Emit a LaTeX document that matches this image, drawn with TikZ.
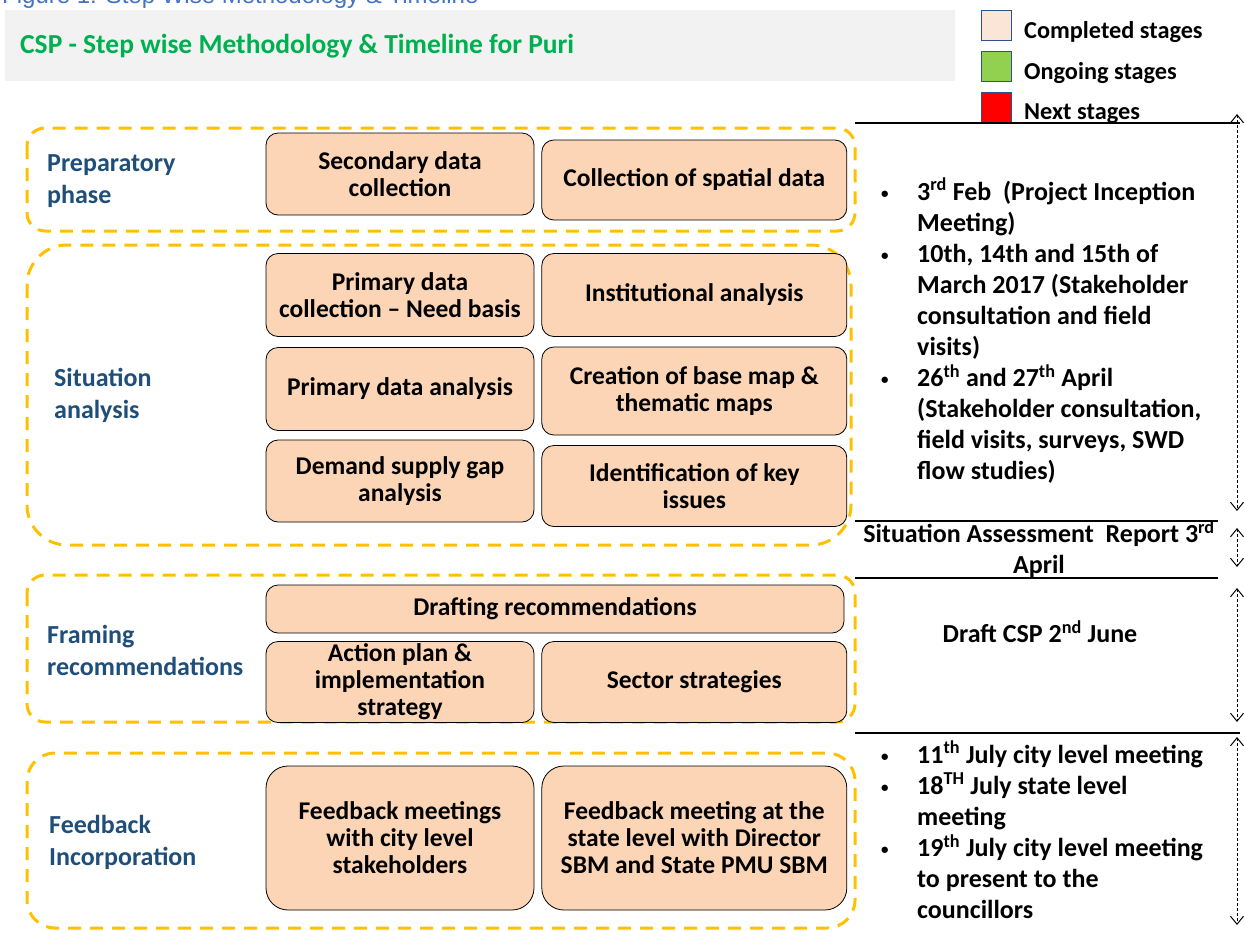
\documentclass[tikz,border=0pt]{standalone}
\usepackage{fontspec}
\setmainfont{Carlito}
\newfontfamily\capfont{Liberation Sans}
\usetikzlibrary{positioning, arrows.meta}
\definecolor{stagefill}{RGB}{251,213,181}
\definecolor{dashgold}{RGB}{255,192,0}
\definecolor{phaseblue}{RGB}{31,78,121}
\definecolor{titlegreen}{RGB}{0,176,80}
\definecolor{headgray}{RGB}{242,242,242}
\definecolor{capblue}{RGB}{68,114,196}
\definecolor{legborder}{RGB}{47,82,143}
\definecolor{donefill}{RGB}{251,229,214}
\definecolor{ongoingfill}{RGB}{146,208,80}
\newcommand{\smallbullet}{\raisebox{2pt}{\fontsize{15}{15}\selectfont\textbullet}}
\tikzset{
    x=1pt, y=-1pt, % one unit is one pixel, y runs downwards
    stage/.style={ % the orange step boxes
        draw=black, thick,
        fill=stagefill,
        rounded corners=12pt,
        align=center, inner sep=2pt,
        font=\bfseries\fontsize{25.5}{27}\selectfont
    },
    leftcol/.style={stage, minimum width=268pt},
    rightcol/.style={stage, minimum width=305pt},
    group/.style={ % dashed frame round one phase
        draw=dashgold, line width=3pt,
        dash pattern=on 13pt off 9pt
    },
    phase/.style={ % blue phase names on the left
        text=phaseblue, align=left, anchor=west, inner sep=0pt,
        font=\bfseries\fontsize{26}{32}\selectfont
    },
    note/.style={ % timeline texts on the right
        inner sep=0pt,
        font=\bfseries\fontsize{26}{31}\selectfont
    },
    rule/.style={line width=1.5pt},
    span/.style={ % dashed timeline arrows
        <->, >={Straight Barb[length=8pt,width=13pt]},
        dash pattern=on 3pt off 2pt, line width=1pt
    },
    legbox/.style={draw=legborder, thick, minimum size=30pt, inner sep=0pt},
    legtext/.style={anchor=base west, inner sep=0pt,
        font=\bfseries\fontsize{24.3}{28}\selectfont}
}

\begin{document}
\begin{tikzpicture}
    \useasboundingbox (0,0) rectangle (1245,930);

    % caption and heading
    \node[anchor=base west, inner sep=0pt, text=capblue,
          font=\capfont\fontsize{24}{28}\selectfont] (caption) at (2,3)
          {Figure 1: Step Wise Methodology \& Timeline};
    \fill[headgray] (5,10) rectangle (955,81);
    \node[anchor=west, inner sep=0pt, text=titlegreen,
          font=\bfseries\fontsize{27.5}{32}\selectfont] (title) at (20,46)
          {CSP - Step wise Methodology \& Timeline for Puri};

    % legend
    \node[legbox, fill=donefill]    (legdone) at (996,25)  {};
    \node[legbox, fill=ongoingfill] (legnow)  at (996,66)  {};
    \node[legbox, fill=red]         (legnext) at (996,107) {};
    \node[legtext] (legdonetxt) at (1024,38)  {Completed stages};
    \node[legtext] (legnowtxt)  at (1024,79)  {Ongoing stages};
    \node[legtext] (legnexttxt) at (1024,119) {Next stages};

    % phase frames
    \draw[group, rounded corners=18pt] (27,128) rectangle (855,231);
    \draw[group, rounded corners=40pt] (27,245) rectangle (851,545);
    \draw[group, rounded corners=18pt] (27,575) rectangle (855,722);
    \draw[group, rounded corners=28pt] (27,753) rectangle (855,928);

    % phase names
    \node[phase] (prep)  at (47,181) {Preparatory\\phase};
    \node[phase] (situ)  at (54,395) {Situation\\analysis};
    \node[phase] (frame) at (47,650) {Framing\\recommendations};
    \node[phase] (feed)  at (49,842) {Feedback\\Incorporation};

    % preparatory phase
    \node[leftcol, minimum height=82pt] (secdata) at (400,174) {Secondary data\\collection};
    \node[rightcol, minimum height=80pt, right=7pt of secdata, yshift=-6pt] (spatial)
        {Collection of spatial data};
    % situation analysis
    \node[leftcol, minimum height=83pt] (primcoll) at (400,295) {Primary data\\collection -- Need basis};
    \node[rightcol, minimum height=83pt, right=7pt of primcoll] (inst) {Institutional analysis};
    \node[leftcol, minimum height=83pt] (primana) at (400,389) {Primary data analysis};
    \node[rightcol, minimum height=88pt, right=7pt of primana, yshift=-2pt] (basemap)
        {Creation of base map \&\\thematic maps};
    \node[leftcol, minimum height=82pt] (gap) at (400,481) {Demand supply gap\\analysis};
    \node[rightcol, minimum height=81pt, right=7pt of gap, yshift=-5pt] (keyiss)
        {Identification of key\\issues};
    % framing recommendations
    \node[stage, minimum width=578pt, minimum height=48pt] (draft) at (555,609)
        {Drafting recommendations};
    \node[leftcol, minimum height=81pt] (action) at (400,682)
        {Action plan \&\\implementation\\strategy};
    \node[rightcol, minimum height=81pt, right=7pt of action] (sector) {Sector strategies};
    % feedback incorporation
    \node[leftcol, minimum height=144pt, rounded corners=22pt] (fbcity) at (400,838)
        {Feedback meetings\\with city level\\stakeholders};
    \node[rightcol, minimum height=144pt, rounded corners=22pt, right=7pt of fbcity] (fbstate)
        {Feedback meeting at the\\state level with Director\\SBM and State PMU SBM};

    % timeline rules
    \coordinate (r1a) at (855,123);  \coordinate (r1b) at (1240,123);
    \coordinate (r2a) at (855,521);  \coordinate (r2b) at (1218,521);
    \coordinate (r3a) at (855,578);  \coordinate (r3b) at (1218,578);
    \coordinate (r4a) at (855,733);  \coordinate (r4b) at (1240,733);
    \draw[rule] (r1a) -- (r1b);
    \draw[rule] (r2a) -- (r2b);
    \draw[rule] (r3a) -- (r3b);
    \draw[rule] (r4a) -- (r4b);

    % timeline spans
    \coordinate (s1a) at (1237,114); \coordinate (s1b) at (1237,511);
    \coordinate (s2a) at (1237,528); \coordinate (s2b) at (1237,567);
    \coordinate (s3a) at (1237,588); \coordinate (s3b) at (1237,722);
    \coordinate (s4a) at (1237,737); \coordinate (s4b) at (1237,925);
    \draw[span] (s1a) -- (s1b);
    \draw[span] (s2a) -- (s2b);
    \draw[span] (s3a) -- (s3b);
    \draw[span] (s4a) -- (s4b);

    % timeline texts
    \node[note, anchor=north west] (early) at (881,178) {%
        \begin{tabular}{@{}p{36pt}@{}l@{}}
        \smallbullet & 3\textsuperscript{rd} Feb\ \ (Project Inception\\
                     & Meeting)\\
        \smallbullet & 10th, 14th and 15th of\\
                     & March 2017 (Stakeholder\\
                     & consultation and field\\
                     & visits)\\
        \smallbullet & 26\textsuperscript{th} and 27\textsuperscript{th} April\\
                     & (Stakeholder consultation,\\
                     & field visits, surveys, SWD\\
                     & flow studies)
        \end{tabular}};
    \node[note, align=center] (sar) at (1039,549)
        {Situation Assessment\ \ Report 3\textsuperscript{rd}\\April};
    \node[note] (dcsp) at (1040,632) {Draft CSP 2\textsuperscript{nd} June};
    \node[note, anchor=north west] (late) at (881,741) {%
        \begin{tabular}{@{}p{36pt}@{}l@{}}
        \smallbullet & 11\textsuperscript{th} July city level meeting\\
        \smallbullet & 18\textsuperscript{TH} July state level\\
                     & meeting\\
        \smallbullet & 19\textsuperscript{th} July city level meeting\\
                     & to present to the\\
                     & councillors
        \end{tabular}};
\end{tikzpicture}
\end{document}
